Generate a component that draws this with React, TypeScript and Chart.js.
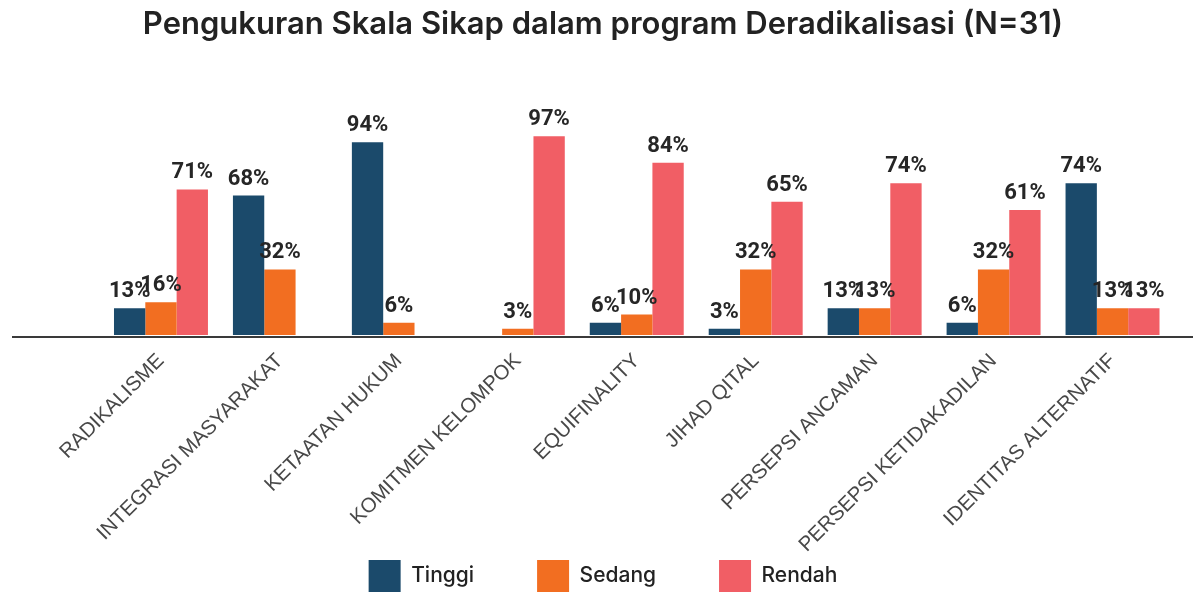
import React, { useEffect, useRef } from "react";
import { Chart, registerables } from "chart.js";

Chart.register(...registerables);

const TITLE = "Pengukuran Skala Sikap dalam program Deradikalisasi (N=31)";
const categories = [
  "RADIKALISME",
  "INTEGRASI MASYARAKAT",
  "KETAATAN HUKUM",
  "KOMITMEN KELOMPOK",
  "EQUIFINALITY",
  "JIHAD QITAL",
  "PERSEPSI ANCAMAN",
  "PERSEPSI KETIDAKADILAN",
  "IDENTITAS ALTERNATIF",
];
const seriesNames = ["Tinggi", "Sedang", "Rendah"];
const tinggi = [13, 68, 94, 0, 6, 3, 13, 6, 74];
const sedang = [16, 32, 6, 3, 10, 32, 13, 32, 13];
const rendah = [71, 0, 0, 97, 84, 65, 74, 61, 13];
const seriesColors = ["#1b4a6b", "#f26e21", "#f15e65"];

const valueLabels = {
  id: "valueLabels",
  afterDatasetsDraw(chart: any) {
    const ctx = chart.ctx;
    ctx.save();
    ctx.font = "bold 22px Roboto";
    ctx.fillStyle = "#262626";
    ctx.textAlign = "center";
    ctx.textBaseline = "alphabetic";
    chart.data.datasets.forEach((ds: any, di: number) => {
      const meta = chart.getDatasetMeta(di);
      meta.data.forEach((bar: any, i: number) => {
        const v = ds.data[i];
        if (!v) return;
        ctx.fillText(v + "%", bar.x, bar.y - 11);
      });
    });
    ctx.restore();
  },
};

const baseLine = {
  id: "baseLine",
  afterLayout(chart: any) {
    // let rotated tick labels extend below the axis box (over the legend's empty padding)
    chart.scales.x.bottom = chart.height;
  },
  afterDatasetsDraw(chart: any) {
    const ctx = chart.ctx;
    const y = chart.chartArea.bottom + 2;
    ctx.save();
    ctx.strokeStyle = "#3a3a3a";
    ctx.lineWidth = 2;
    ctx.beginPath();
    ctx.moveTo(12, y);
    ctx.lineTo(chart.width, y);
    ctx.stroke();
    ctx.restore();
  },
};

export default function App() {
  const ref = useRef<HTMLCanvasElement>(null);
  useEffect(() => {
    if (!ref.current) return;
    const data = [tinggi, sedang, rendah];
    const chart = new Chart(ref.current, {
      type: "bar",
      data: {
        labels: categories,
        datasets: seriesNames.map((name, i) => ({
          label: name,
          data: data[i],
          backgroundColor: seriesColors[i],
          borderWidth: 0,
          barPercentage: 1,
          categoryPercentage: 0.79,
        })),
      },
      options: {
        animation: false,
        responsive: true,
        maintainAspectRatio: false,
        layout: { padding: { left: 34, right: 21, top: 0, bottom: 0 } },
        plugins: {
          title: {
            display: true,
            text: TITLE,
            color: "#222",
            font: { family: "Inter", size: 31, weight: "600" },
            padding: { top: 6, bottom: 86.8 },
          },
          legend: {
            position: "bottom",
            labels: {
              boxWidth: 32,
              boxHeight: 32,
              padding: 63,
              color: "#222",
              font: { family: "Inter", size: 21, weight: "500" },
            },
          },
          tooltip: { enabled: false },
        },
        scales: {
          x: {
            grid: { display: false, drawTicks: false },
            border: { display: false },
            ticks: {
              maxRotation: 45,
              minRotation: 45,
              padding: 14,
              color: "#484848",
              font: { family: "Liberation Sans", size: 20.5 },
            },
            afterFit(scale: any) {
              scale.height = 162;
            },
          },
          y: {
            min: 0,
            max: 100,
            grid: { display: false, drawTicks: false },
            border: { display: false },
            ticks: { display: false },
            afterFit(scale: any) {
              scale.width = 67.5;
            },
          },
        },
      },
      plugins: [valueLabels, baseLine],
    });
    return () => chart.destroy();
  }, []);
  return (
    <div style={{ position: "absolute", left: 0, top: 0, width: 1193, height: 593, overflow: "hidden", background: "#fff" }}>
      <div style={{ position: "relative", width: 1193, height: 602 }}>
        <canvas ref={ref} />
      </div>
    </div>
  );
}
